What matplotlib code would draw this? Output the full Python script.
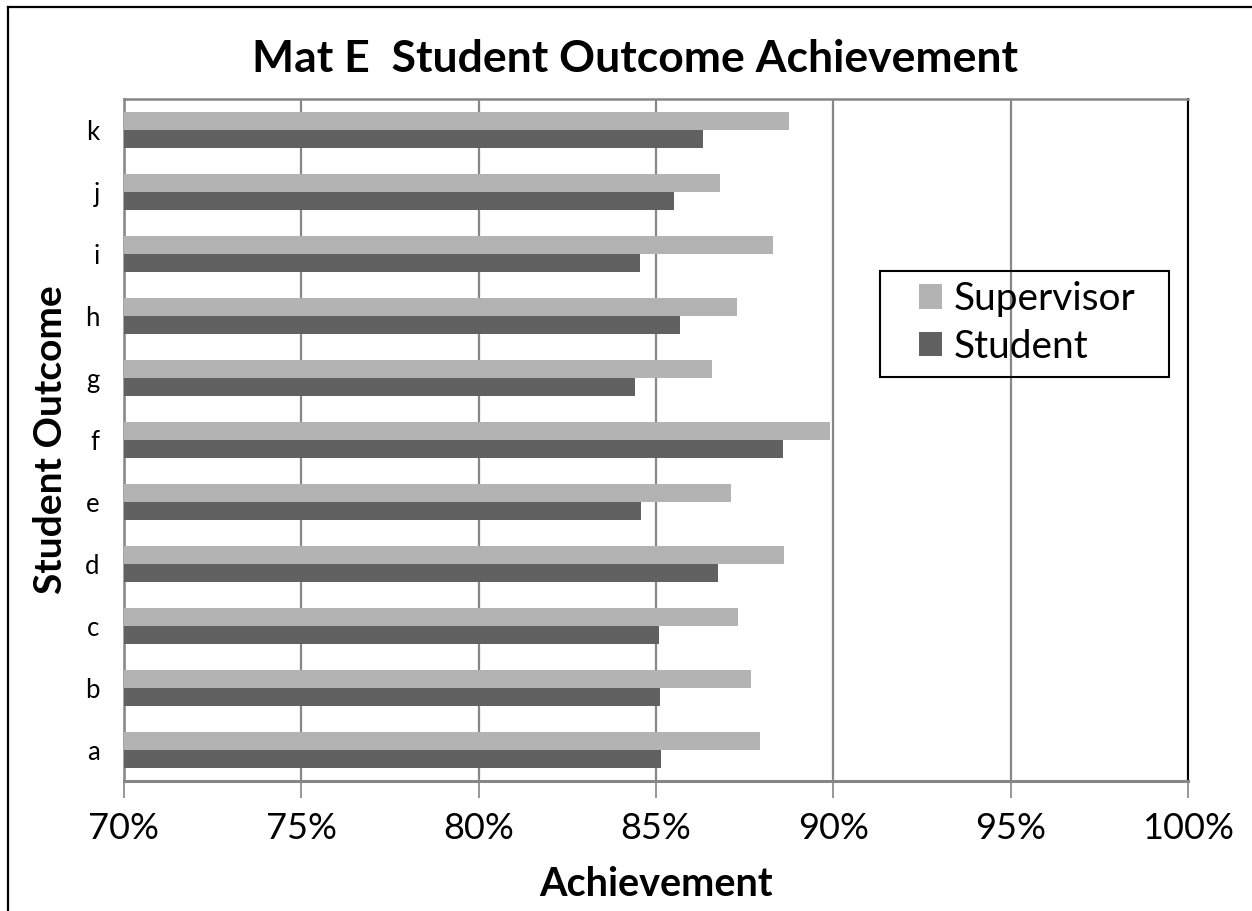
import numpy as np
import matplotlib.pyplot as plt
from matplotlib.lines import Line2D
from matplotlib.patches import Rectangle
from matplotlib.ticker import FuncFormatter

plt.rcParams['font.family'] = ['Lato', 'DejaVu Sans']

outcomes = ['a', 'b', 'c', 'd', 'e', 'f', 'g', 'h', 'i', 'j', 'k']
supervisor = [87.92, 87.68, 87.32, 88.61, 87.12, 89.91, 86.59, 87.27, 88.31, 86.81, 88.75]
student = [85.15, 85.12, 85.09, 86.76, 84.59, 88.57, 84.41, 85.69, 84.54, 85.52, 86.33]
xticks = [70, 75, 80, 85, 90, 95, 100]

W, H = 1252, 911
fig = plt.figure(figsize=(W/100, H/100), dpi=100)
ax = fig.add_axes([124/W, 1-781/H, (1188-124)/W, (781-99)/H])

y = np.arange(len(outcomes))
bh = 0.285
ax.barh(y + bh/2, supervisor, height=bh, color='#b3b3b3', label='Supervisor', zorder=3)
ax.barh(y - bh/2, student, height=bh, color='#616161', label='Student', zorder=3)

ax.set_xlim(70, 100)
ax.set_ylim(-0.5, len(outcomes) - 0.5)
ax.set_xticks(xticks)
ax.xaxis.set_major_formatter(FuncFormatter(lambda v, p: '%d%%' % v))
ax.set_yticks(y)
ax.set_yticklabels(outcomes)
ax.grid(axis='x', color='#868686', linewidth=1.6, zorder=0)

ax.tick_params(axis='x', length=12, width=1.2, color='#868686', labelsize=26, pad=10)
ax.tick_params(axis='y', length=0, labelsize=18.5, pad=17.5)
for s in ['left', 'top']:
    ax.spines[s].set_color('#868686')
    ax.spines[s].set_linewidth(1.8)
ax.spines['bottom'].set_color('#868686')
ax.spines['bottom'].set_linewidth(2.2)
ax.spines['right'].set_color('black')
ax.spines['right'].set_linewidth(1.5)

ax.set_xlabel('Achievement', fontsize=28.5, fontweight='bold', va='center')
ax.xaxis.set_label_coords(0.5, (781-885)/682)
ax.set_ylabel('Student Outcome', fontsize=28, fontweight='bold', va='center')
ax.yaxis.set_label_coords((51-124)/1064, 0.5)
fig.text(635/W, 1-59/H, 'Mat E  Student Outcome Achievement', fontsize=32,
         fontweight='bold', ha='center', va='center')

# legend box drawn separately so the padding can be set per side
fig.add_artist(Rectangle((880/W, 1-377/H), (1169-880)/W, (377-271)/H,
                         transform=fig.transFigure, fill=False, edgecolor='black', lw=1.5))
leg = fig.legend(loc='center left', bbox_to_anchor=(919/W, 1-323/H), fontsize=28,
                 frameon=False, borderaxespad=0, borderpad=0,
                 handlelength=0.6, handleheight=0.6, handletextpad=0.3,
                 labelspacing=0.3)

# outer chart border (top and left only)
fig.add_artist(Line2D([8/W, 1], [1-7/H, 1-7/H], color='black', lw=1.6))
fig.add_artist(Line2D([8/W, 8/W], [0, 1-7/H], color='black', lw=1.6))

fig.savefig('out.png', dpi=100)
